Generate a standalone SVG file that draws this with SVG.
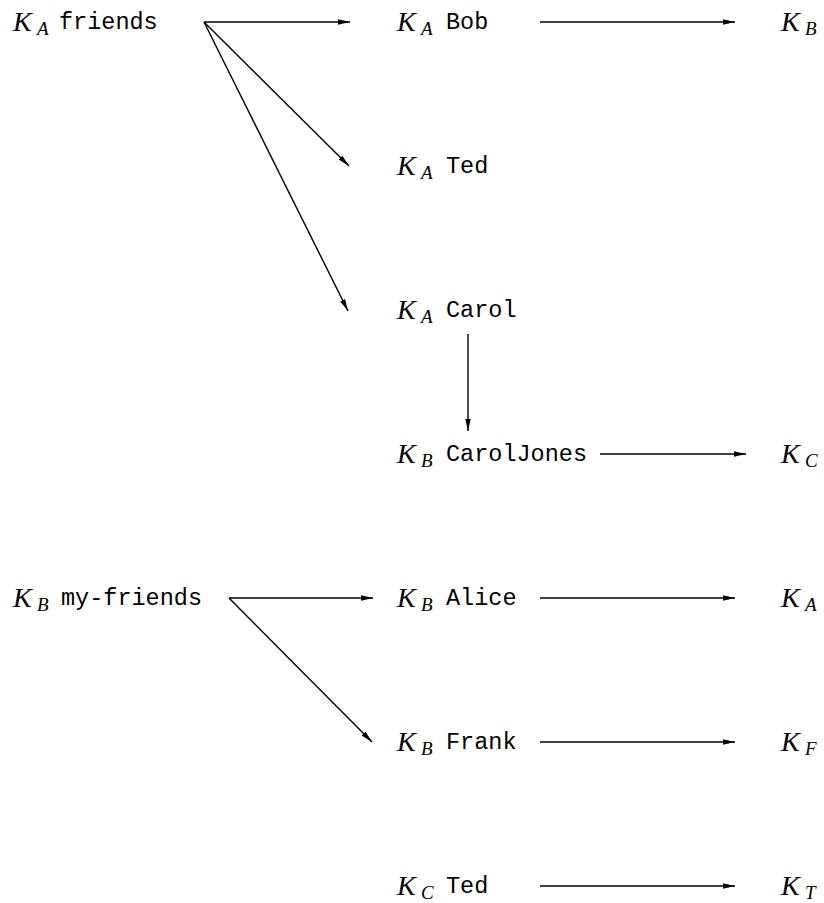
<svg xmlns="http://www.w3.org/2000/svg" width="824" height="903" viewBox="0 0 824 903">
<style>
.k{font-family:"Liberation Serif",serif;font-style:italic;font-size:28px;fill:#000}
.s{font-family:"Liberation Serif",serif;font-style:italic;font-size:19px;fill:#000}
.t{font-family:"Liberation Mono",monospace;font-size:23.5px;fill:#000}
.e{stroke:#000;stroke-width:1.4;fill:none;marker-end:url(#ah)}
</style>
<defs>
<marker id="ah" markerUnits="userSpaceOnUse" markerWidth="14" markerHeight="8" refX="12" refY="3.5" orient="auto">
<path d="M0,0.8 L12,3.5 L0,6.2 z" fill="#000"/>
</marker>
</defs>
<rect width="824" height="903" fill="#fff"/>
<g id="connectors">
<line class="e" x1="204" y1="22" x2="350" y2="22"/>
<line class="e" x1="204" y1="22" x2="349" y2="166"/>
<line class="e" x1="204" y1="22" x2="348" y2="311"/>
<line class="e" x1="540" y1="22" x2="735" y2="22"/>
<line class="e" x1="468" y1="334" x2="468" y2="431"/>
<line class="e" x1="600" y1="454" x2="746" y2="454"/>
<line class="e" x1="229" y1="598" x2="373" y2="598"/>
<line class="e" x1="229" y1="598" x2="372" y2="742"/>
<line class="e" x1="540" y1="598" x2="735" y2="598"/>
<line class="e" x1="540" y1="742" x2="735" y2="742"/>
<line class="e" x1="540" y1="886" x2="735" y2="886"/>
</g>
<g id="n-ka-friends"><text class="k" x="13" y="31">K</text><text class="s" x="37" y="35">A</text><text class="t" x="59" y="29">friends</text></g>
<g id="n-ka-bob"><text class="k" x="397" y="31">K</text><text class="s" x="421" y="35">A</text><text class="t" x="446" y="29">Bob</text></g>
<g id="n-kb-1"><text class="k" x="781" y="31">K</text><text class="s" x="805" y="35">B</text></g>
<g id="n-ka-ted"><text class="k" x="397" y="175">K</text><text class="s" x="421" y="179">A</text><text class="t" x="446" y="173">Ted</text></g>
<g id="n-ka-carol"><text class="k" x="397" y="319">K</text><text class="s" x="421" y="323">A</text><text class="t" x="446" y="317">Carol</text></g>
<g id="n-kb-caroljones"><text class="k" x="397" y="463">K</text><text class="s" x="421" y="467">B</text><text class="t" x="446" y="461">CarolJones</text></g>
<g id="n-kc-1"><text class="k" x="781" y="463">K</text><text class="s" x="805" y="467">C</text></g>
<g id="n-kb-myfriends"><text class="k" x="13" y="607">K</text><text class="s" x="37" y="611">B</text><text class="t" x="61" y="605">my-friends</text></g>
<g id="n-kb-alice"><text class="k" x="397" y="607">K</text><text class="s" x="421" y="611">B</text><text class="t" x="446" y="605">Alice</text></g>
<g id="n-ka-2"><text class="k" x="781" y="607">K</text><text class="s" x="805" y="611">A</text></g>
<g id="n-kb-frank"><text class="k" x="397" y="751">K</text><text class="s" x="421" y="755">B</text><text class="t" x="446" y="749">Frank</text></g>
<g id="n-kf"><text class="k" x="781" y="751">K</text><text class="s" x="805" y="755">F</text></g>
<g id="n-kc-ted"><text class="k" x="397" y="895">K</text><text class="s" x="421" y="899">C</text><text class="t" x="446" y="893">Ted</text></g>
<g id="n-kt"><text class="k" x="781" y="895">K</text><text class="s" x="805" y="899">T</text></g>
</svg>
